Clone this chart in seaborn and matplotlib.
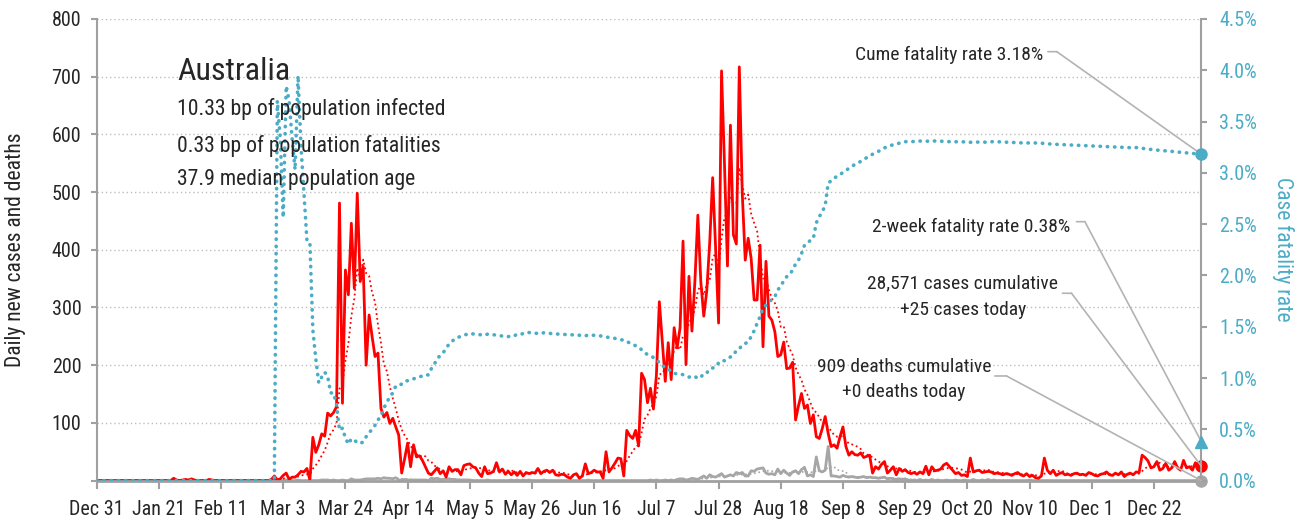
import numpy as np
import pandas as pd
import matplotlib
matplotlib.use("Agg")
import matplotlib.pyplot as plt
import matplotlib.dates as mdates
from matplotlib import font_manager
import seaborn as sns


# =========================================================
# DATA (daily values)
# =========================================================

start_date = "2019-12-31"

cases_dec_2019 = [0]
cases_jan = [0, 0, 0, 0, 0, 0, 0, 0, 0, 0,
             0, 0, 0, 0, 0, 0, 0, 0, 0, 0,
             0, 0, 0, 0, 0, 4, 1, 0, 1, 2,
             1]
cases_feb = [3, 1, 0, 0, 0, 0, 2, 1, 0, 0,
             0, 0, 0, 0, 0, 0, 0, 0, 0, 0,
             0, 0, 0, 0, 0, 0, 0, 2, 8]
cases_mar = [1, 3, 9, 13, 2, 6, 6, 10, 16, 15,
             21, 1, 75, 49, 62, 81, 77, 117, 112, 118,
             128, 481, 134, 365, 322, 446, 333, 498, 345, 371,
             200]
cases_apr = [287, 250, 215, 221, 125, 110, 118, 99, 108, 93,
             79, 13, 38, 65, 24, 62, 41, 43, 35, 24,
             13, 10, 16, 22, 12, 17, 6, 24, 16, 19]
cases_may = [19, 10, 26, 28, 29, 24, 22, 13, 7, 24,
             12, 13, 16, 31, 15, 20, 11, 16, 10, 15,
             9, 16, 8, 14, 12, 14, 13, 21, 12, 16,
             18]
cases_jun = [14, 18, 10, 9, 11, 10, 6, 4, 10, 12,
             4, 8, 29, 12, 14, 18, 15, 15, 4, 50,
             15, 22, 30, 39, 38, 8, 87, 78, 73, 87]
cases_jul = [60, 186, 175, 135, 160, 124, 182, 310, 242, 172,
             239, 175, 265, 230, 265, 415, 201, 354, 259, 345,
             460, 345, 285, 328, 412, 525, 403, 273, 710, 547,
             372]
cases_aug = [616, 426, 410, 717, 498, 382, 420, 385, 313, 313,
             408, 232, 380, 285, 278, 258, 215, 218, 240, 194,
             195, 205, 105, 130, 151, 125, 131, 99, 114, 76,
             73]
cases_sep = [90, 111, 82, 59, 62, 56, 76, 93, 59, 44,
             50, 45, 44, 48, 40, 42, 44, 13, 24, 20,
             28, 33, 13, 18, 24, 10, 21, 16, 19, 14]
cases_oct = [12, 14, 11, 15, 12, 25, 10, 24, 17, 18,
             20, 27, 30, 24, 18, 12, 14, 9, 10, 7,
             39, 15, 17, 18, 14, 15, 16, 15, 12, 13,
             12]
cases_nov = [10, 12, 11, 9, 12, 14, 10, 8, 12, 7,
             9, 5, 4, 8, 39, 18, 12, 18, 9, 12,
             14, 10, 11, 9, 12, 13, 10, 11, 9, 14]
cases_dec = [12, 9, 8, 11, 12, 15, 10, 9, 13, 10,
             15, 7, 11, 13, 10, 15, 14, 44, 40, 34,
             22, 24, 33, 18, 21, 30, 18, 22, 33, 22,
             18]
cases_jan_2021 = [35, 22, 24, 18, 31, 20, 25]

deaths_dec_2019 = [0]
deaths_jan = [0, 0, 0, 0, 0, 0, 0, 0, 0, 0,
              0, 0, 0, 0, 0, 0, 0, 0, 0, 0,
              0, 0, 0, 0, 0, 0, 0, 0, 0, 0,
              0]
deaths_feb = [0, 0, 0, 0, 0, 0, 0, 0, 0, 0,
              0, 0, 0, 0, 0, 0, 0, 0, 0, 0,
              0, 0, 0, 0, 0, 0, 0, 0, 0]
deaths_mar = [1, 0, 0, 1, 0, 0, 0, 1, 0, 0,
              0, 0, 0, 0, 0, 1, 1, 1, 0, 1,
              0, 0, 1, 0, 0, 3, 1, 1, 1, 2,
              3]
deaths_apr = [3, 3, 3, 4, 3, 5, 4, 4, 3, 5,
              1, 1, 2, 1, 1, 1, 1, 1, 1, 1,
              0, 4, 3, 4, 2, 2, 3, 3, 2, 2]
deaths_may = [1, 1, 1, 1, 1, 0, 0, 0, 0, 0,
              1, 0, 0, 0, 0, 0, 0, 0, 1, 0,
              1, 0, 1, 0, 1, 0, 0, 0, 0, 1,
              0]
deaths_jun = [0, 0, 0, 0, 0, 0, 0, 0, 0, 0,
              0, 0, 0, 1, 0, 0, 0, 0, 0, 0,
              0, 0, 0, 0, 0, 0, 0, 0, 0, 0]
deaths_jul = [0, 0, 0, 0, 1, 0, 1, 0, 0, 1,
              0, 1, 0, 2, 3, 3, 1, 2, 4, 3,
              2, 5, 8, 4, 10, 7, 6, 9, 12, 6,
              8]
deaths_aug = [10, 8, 14, 12, 14, 8, 8, 17, 16, 20,
              21, 22, 13, 11, 12, 10, 20, 12, 18, 13,
              9, 15, 17, 12, 19, 23, 8, 10, 7, 41,
              17]
deaths_sep = [15, 18, 59, 8, 8, 7, 6, 9, 7, 6,
              7, 6, 5, 6, 7, 5, 6, 5, 5, 4,
              5, 6, 3, 4, 3, 2, 3, 2, 3, 1]
deaths_oct = [0, 1, 0, 2, 0, 1, 0, 2, 0, 1,
              0, 0, 1, 0, 0, 1, 0, 0, 1, 0,
              0, 2, 0, 0, 1, 0, 2, 0, 1, 0,
              0]
deaths_nov = [0, 0, 0, 0, 0, 0, 0, 0, 0, 1,
              0, 0, 0, 0, 0, 0, 0, 0, 0, 0,
              0, 0, 0, 0, 0, 0, 0, 0, 0, 0]
deaths_dec = [0, 0, 0, 0, 0, 0, 0, 0, 0, 0,
              0, 0, 0, 0, 1, 0, 0, 0, 0, 0,
              0, 0, 0, 0, 0, 0, 0, 0, 0, 0,
              0]
deaths_jan_2021 = [0, 0, 0, 0, 0, 0, 0]

two_week_cfr = 0.38

country = "Australia"
info_lines = [
    "10.33 bp of population infected",
    "0.33 bp of population fatalities",
    "37.9 median population age",
]

x_tick_start = "2019-12-31"
x_tick_end = "2020-12-22"
left_ticks = [0, 100, 200, 300, 400, 500, 600, 700, 800]
right_ticks = [0.0, 0.5, 1.0, 1.5, 2.0, 2.5, 3.0, 3.5, 4.0, 4.5]


# =========================================================
# STYLE
# =========================================================

RED = "#ff0000"
GREY = "#a6a6a6"
BLUE = "#4bacc6"
AXIS_GREY = "#a0a0a0"

sns.set_theme(style="white")

installed = {f.name for f in font_manager.fontManager.ttflist}
candidates = ["Roboto Condensed", "Liberation Sans Narrow", "DejaVu Sans"]
chosen = [f for f in candidates if f in installed]
plt.rcParams["font.family"] = chosen[:1] + ["DejaVu Sans"]


# =========================================================
# FRAME
# =========================================================

cases = (cases_dec_2019 + cases_jan + cases_feb + cases_mar + cases_apr
         + cases_may + cases_jun + cases_jul + cases_aug + cases_sep
         + cases_oct + cases_nov + cases_dec + cases_jan_2021)
deaths = (deaths_dec_2019 + deaths_jan + deaths_feb + deaths_mar
          + deaths_apr + deaths_may + deaths_jun + deaths_jul + deaths_aug
          + deaths_sep + deaths_oct + deaths_nov + deaths_dec
          + deaths_jan_2021)

df = pd.DataFrame({
    "date": pd.date_range(start_date, periods=len(cases), freq="D"),
    "cases": cases,
    "deaths": deaths,
})
df["cases_avg"] = df["cases"].rolling(7, min_periods=1).mean()
df["deaths_avg"] = df["deaths"].rolling(7, min_periods=1).mean()
cum_cases = df["cases"].cumsum()
cum_deaths = df["deaths"].cumsum()
df["cfr"] = np.where(cum_cases > 0,
                     100 * cum_deaths / cum_cases.clip(lower=1), 0.0)

last = df.iloc[-1]
last_x = mdates.date2num(last["date"])
total_cases = int(cum_cases.iloc[-1])
total_deaths = int(cum_deaths.iloc[-1])


# =========================================================
# PLOT
# =========================================================

fig = plt.figure(figsize=(12.99, 5.2), dpi=100)
ax = fig.add_axes([0.0744, 0.0758, 0.8504, 0.8877])
ax2 = ax.twinx()

sns.lineplot(data=df, x="date", y="deaths", ax=ax, color=GREY, lw=2)
sns.lineplot(data=df, x="date", y="deaths_avg", ax=ax, color=GREY,
             lw=1.2, linestyle=":")
sns.lineplot(data=df, x="date", y="cases", ax=ax, color=RED, lw=2)
sns.lineplot(data=df, x="date", y="cases_avg", ax=ax, color=RED,
             lw=1.3, linestyle=":")
sns.lineplot(data=df, x="date", y="cfr", ax=ax2, color=BLUE, lw=2.6,
             linestyle=(0, (0.1, 1.9)), dash_capstyle="round")

ax.plot(last_x, last["deaths"], "o", color=GREY, ms=8,
        clip_on=False, zorder=6)
ax.plot(last_x, last["cases"], "o", color=RED, ms=8,
        clip_on=False, zorder=6)
ax2.plot(last_x, last["cfr"], "o", color=BLUE, ms=8,
         clip_on=False, zorder=6)
ax2.plot(last_x, two_week_cfr, "^", color=BLUE, ms=9,
         clip_on=False, zorder=6)

ax.set_xlim(df["date"].iloc[0], df["date"].iloc[-1])
ax.set_ylim(0, 800)
ax2.set_ylim(0, 4.5)

x_ticks = pd.date_range(x_tick_start, x_tick_end, freq="21D")
ax.set_xticks(x_ticks)
ax.set_xticklabels([f"{d:%b} {d.day}" for d in x_ticks])
ax.set_yticks(left_ticks)
ax.set_yticklabels(["" if v == 0 else str(v) for v in left_ticks])
ax2.set_yticks(right_ticks)
ax2.set_yticklabels([f"{v:.1f}%" for v in right_ticks])

ax.yaxis.grid(True, linestyle=(0, (1, 2)), color="#bdbdbd", lw=1)
ax.xaxis.grid(False)
ax2.grid(False)

for spine in ["top", "right"]:
    ax.spines[spine].set_visible(False)
for spine in ["top", "left", "bottom"]:
    ax2.spines[spine].set_visible(False)
ax.spines["left"].set_color(AXIS_GREY)
ax.spines["left"].set_linewidth(1.5)
ax.spines["bottom"].set_color(AXIS_GREY)
ax.spines["bottom"].set_linewidth(2)
ax2.spines["right"].set_color(AXIS_GREY)
ax2.spines["right"].set_linewidth(1.5)

ax.tick_params(axis="x", bottom=True, direction="out", length=6,
               width=1.5, color=AXIS_GREY, labelsize=14.5, pad=8)
ax.tick_params(axis="y", left=True, direction="out", length=4,
               width=1.5, color=AXIS_GREY, labelsize=14.5, pad=7)
ax2.tick_params(axis="y", right=True, direction="out", length=4,
                width=1.5, color=AXIS_GREY, labelsize=14.5, pad=9,
                labelcolor=BLUE)

ax.set_xlabel("")
ax.set_ylabel("Daily new cases and deaths", fontsize=15.5)
ax.yaxis.set_label_coords(-0.064, 0.5)
ax2.set_ylabel("Case fatality rate", fontsize=15.5, color=BLUE,
               rotation=270, va="bottom")
ax2.yaxis.set_label_coords(1.0637, 0.5)


# =========================================================
# TEXT
# =========================================================

ax2.text(0.0735, 0.868, country, transform=ax.transAxes, fontsize=23,
         va="baseline", ha="left")
for line, y in zip(info_lines, [0.792, 0.7125, 0.6404]):
    ax2.text(0.0727, y, line, transform=ax.transAxes, fontsize=15.7,
             va="baseline", ha="left")

NOTE = dict(fontsize=14, va="baseline", transform=ax.transAxes)
LINK = dict(arrowstyle="-", color="#b3b3b3", lw=1.2,
            shrinkA=0, shrinkB=0)

ax2.text(0.8565, 0.9112, f"Cume fatality rate {last['cfr']:.2f}%",
         ha="right", **NOTE)
ax2.text(0.8810, 0.5392, f"2-week fatality rate {two_week_cfr:.2f}%",
         ha="right", **NOTE)
ax2.text(0.7841, 0.4166, f"{total_cases:,} cases cumulative",
         ha="center", **NOTE)
ax2.text(0.7841, 0.3588, f"+{int(last['cases'])} cases today",
         ha="center", **NOTE)
ax2.text(0.7307, 0.2359, f"{total_deaths:,} deaths cumulative",
         ha="center", **NOTE)
ax2.text(0.7307, 0.1818, f"+{int(last['deaths'])} deaths today",
         ha="center", **NOTE)

links = [
    ((0.8611, 0.9292), (0.8692, 0.9292), ax2, last["cfr"]),
    ((0.8870, 0.5609), (0.8946, 0.5609), ax2, two_week_cfr),
    ((0.8744, 0.4058), (0.8825, 0.4058), ax, last["cases"]),
    ((0.8131, 0.2266), (0.8237, 0.2266), ax, last["deaths"]),
]
for start, corner, target_ax, value in links:
    ax2.annotate("", xy=corner, xycoords=ax.transAxes,
                 xytext=start, textcoords=ax.transAxes, arrowprops=LINK)
    ax2.annotate("", xy=(last_x, value),
                 xycoords=target_ax.transData,
                 xytext=corner, textcoords=ax.transAxes, arrowprops=LINK)

fig.savefig("out.png", dpi=100)
